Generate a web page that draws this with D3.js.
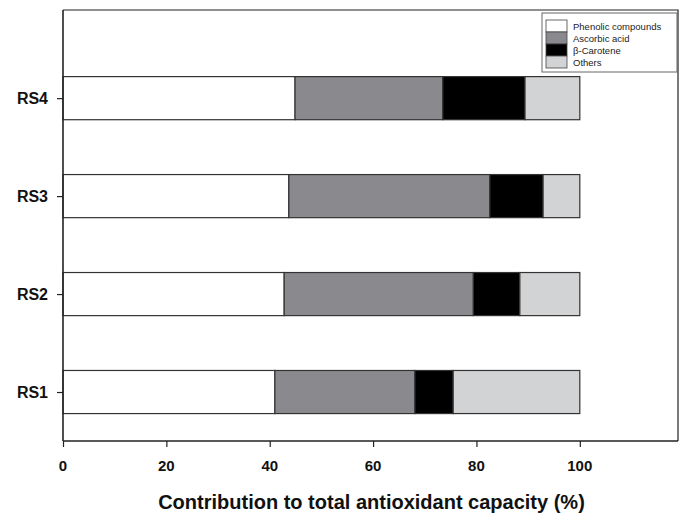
<!DOCTYPE html>
<html>
<head>
<meta charset="utf-8">
<script src="https://cdn.jsdelivr.net/npm/d3@7"></script>
<style>
  body { margin: 0; background: #fff; }
  svg { display: block; font-family: "Liberation Sans", Arial, sans-serif; }
</style>
</head>
<body>
<svg width="682" height="513"></svg>
<script>
// data
const samples = ["RS1", "RS2", "RS3", "RS4"];
const parts = ["Phenolic compounds", "Ascorbic acid", "β-Carotene", "Others"];
const phenolic = [41.0, 42.8, 43.7, 44.9];
const ascorbic = [27.1, 36.6, 38.9, 28.6];
const carotene = [7.4, 9.0, 10.3, 15.9];
const others = [24.5, 11.6, 7.1, 10.6];
const xTicks = [0, 20, 40, 60, 80, 100];
const partColors = ["#ffffff", "#8a8a8e", "#000000", "#d2d3d5"];

const svg = d3.select("svg");
const width = +svg.attr("width");
const height = +svg.attr("height");

const margin = { top: 10, right: 4, bottom: 72, left: 63 };
const innerWidth = width - margin.left - margin.right;
const innerHeight = height - margin.top - margin.bottom;

const rows = samples.map((s, i) => ({
  sample: s,
  "Phenolic compounds": phenolic[i],
  "Ascorbic acid": ascorbic[i],
  "β-Carotene": carotene[i],
  "Others": others[i],
}));
const stacked = d3.stack().keys(parts)(rows);

const xScale = d3.scaleLinear().domain([0, 119]).range([0, innerWidth]);
// sample position 1..4, a little extra room at the top
const yScale = d3.scaleLinear().domain([0.5, 4.9]).range([innerHeight, 0]);
const barH = yScale(0) - yScale(0.44);

const g = svg.append("g")
  .attr("transform", `translate(${margin.left},${margin.top})`);

// frame (top + right)
g.append("path")
  .attr("d", `M0,0H${innerWidth}V${innerHeight}`)
  .attr("fill", "none")
  .attr("stroke", "#222")
  .attr("stroke-width", 1.2);

// bars
g.selectAll("g.layer")
  .data(stacked)
  .enter()
  .append("g")
  .attr("class", "layer")
  .attr("fill", (d, i) => partColors[i])
  .selectAll("rect")
  .data((d) => d)
  .enter()
  .append("rect")
  .attr("x", (d) => xScale(d[0]))
  .attr("width", (d) => xScale(d[1]) - xScale(d[0]))
  .attr("y", (d, i) => yScale(i + 1) - barH / 2)
  .attr("height", barH)
  .attr("stroke", "#333")
  .attr("stroke-width", 1.2);

// x axis (lines from d3, labels drawn below)
const xAxis = d3.axisBottom(xScale).tickValues(xTicks).tickSize(6).tickFormat("");
const xAxisG = g.append("g")
  .attr("transform", `translate(0,${innerHeight})`)
  .call(xAxis);
xAxisG.selectAll(".tick text").remove();
xAxisG.select(".domain").attr("stroke", "#222").attr("stroke-width", 1.6)
  .attr("d", `M0,0H${innerWidth}`);
xAxisG.selectAll(".tick line").attr("stroke", "#222").attr("stroke-width", 1.2);

g.append("g")
  .selectAll("text")
  .data(xTicks)
  .enter()
  .append("text")
  .attr("x", (d) => xScale(d))
  .attr("y", innerHeight + 30)
  .attr("text-anchor", "middle")
  .attr("font-size", 15)
  .attr("font-weight", "bold")
  .attr("fill", "#111")
  .text((d) => d);

// y axis
const yAxis = d3.axisLeft(yScale).tickValues([1, 2, 3, 4]).tickSize(6).tickFormat("");
const yAxisG = g.append("g").call(yAxis);
yAxisG.selectAll(".tick text").remove();
yAxisG.select(".domain").attr("stroke", "#222").attr("stroke-width", 1.6)
  .attr("d", `M0,${innerHeight}V0`);
yAxisG.selectAll(".tick line").attr("stroke", "#222").attr("stroke-width", 1.2);

g.append("g")
  .selectAll("text")
  .data(samples)
  .enter()
  .append("text")
  .attr("x", -15)
  .attr("y", (d, i) => yScale(i + 1))
  .attr("dy", "0.36em")
  .attr("text-anchor", "end")
  .attr("font-size", 16)
  .attr("font-weight", "bold")
  .attr("fill", "#111")
  .text((d) => d);

// x axis title
g.append("text")
  .attr("x", innerWidth / 2 + 1)
  .attr("y", innerHeight + 68)
  .attr("text-anchor", "middle")
  .attr("font-size", 20)
  .attr("font-weight", "bold")
  .attr("fill", "#111")
  .text("Contribution to total antioxidant capacity (%)");

// legend
const legend = svg.append("g").attr("transform", "translate(542,13)");
legend.append("rect")
  .attr("width", 135)
  .attr("height", 59)
  .attr("fill", "#fff")
  .attr("stroke", "#666")
  .attr("stroke-width", 1);
const items = legend.selectAll("g.item")
  .data(parts)
  .enter()
  .append("g")
  .attr("class", "item")
  .attr("transform", (d, i) => `translate(4,${7 + i * 12})`);
items.append("rect")
  .attr("width", 21)
  .attr("height", 12)
  .attr("fill", (d, i) => partColors[i])
  .attr("stroke", "#444")
  .attr("stroke-width", 0.8);
items.append("text")
  .attr("x", 27)
  .attr("y", 9.5)
  .attr("font-size", 9.5)
  .attr("fill", "#222")
  .text((d) => d);
</script>
</body>
</html>
